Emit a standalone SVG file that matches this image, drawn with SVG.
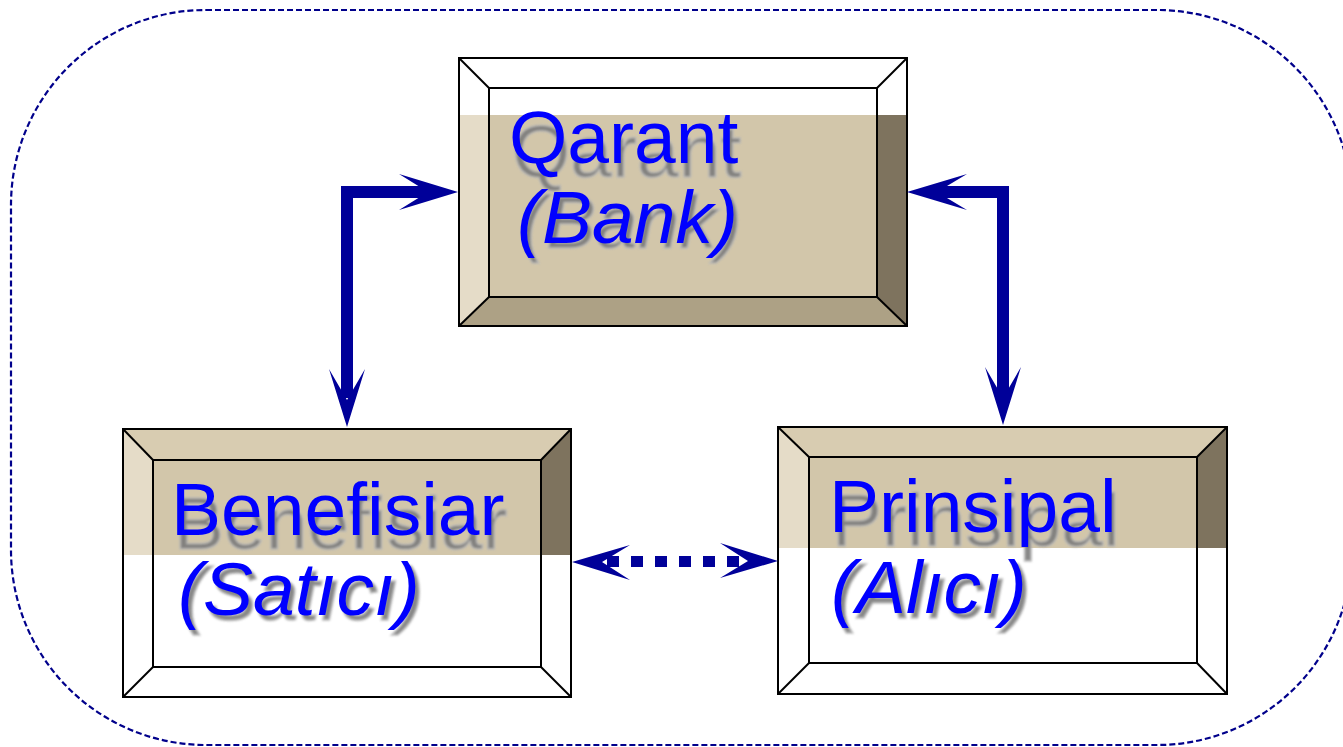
<svg xmlns="http://www.w3.org/2000/svg" width="1343" height="747" viewBox="0 0 1343 747">
<defs>
<style>
.frame{fill:none;stroke:#000;stroke-width:2}
.inner{fill:none;stroke:#000;stroke-width:2}
.diag{stroke:#000;stroke-width:2}
.lbl{font-family:"Liberation Sans",Arial,sans-serif;font-size:75px;fill:#0000FF}
.it{font-style:italic}
.sh{font-family:"Liberation Sans",Arial,sans-serif;font-size:75px;fill:#7a7a7a;stroke:#b8b8b8;stroke-width:1.5;opacity:0.9}
.arr{fill:#000099}
.shaft{fill:none;stroke:#000099;stroke-width:12;stroke-linejoin:miter}
.face{fill:#D2C6AA}
.lb{fill:#E5DCC8}
.tb{fill:#D8CCB1}
.rb{fill:#7E735E}
.bb{fill:#ADA185}
</style>
<clipPath id="c1"><rect x="459" y="115" width="448" height="212"/></clipPath>
<clipPath id="c2"><rect x="123" y="429" width="448" height="126"/></clipPath>
<clipPath id="c3"><rect x="778" y="427" width="449" height="121"/></clipPath>
<filter id="blur" x="-5%" y="-20%" width="110%" height="140%"><feGaussianBlur stdDeviation="0.8"/></filter>
</defs>
<rect width="1343" height="747" fill="#fff"/>
<rect x="11" y="10" width="1341" height="735" rx="195" ry="195" fill="none" stroke="#00008B" stroke-width="2.2" stroke-dasharray="6 3"/>

<g id="node-qarant">
<rect x="459" y="58" width="448" height="268" fill="#fff"/>
<g clip-path="url(#c1)">
<polygon class="lb" points="459,58 489,88 489,297 459,326"/>
<polygon class="tb" points="459,58 907,58 877,88 489,88"/>
<polygon class="rb" points="907,58 907,326 877,297 877,88"/>
<polygon class="bb" points="459,326 489,297 877,297 907,326"/>
<rect class="face" x="489" y="88" width="388" height="209"/>
</g>
<rect class="frame" x="459" y="58" width="448" height="268"/>
<rect class="inner" x="489" y="88" width="388" height="209"/>
<line class="diag" x1="459" y1="58" x2="489" y2="88"/>
<line class="diag" x1="907" y1="58" x2="877" y2="88"/>
<line class="diag" x1="459" y1="326" x2="489" y2="297"/>
<line class="diag" x1="907" y1="326" x2="877" y2="297"/>
<text class="sh" x="512" y="177" filter="url(#blur)">Qarant</text>
<text class="sh it" x="521" y="248" filter="url(#blur)">(Bank)</text>
<text class="lbl" x="509" y="163">Qarant</text>
<text class="lbl it" x="517" y="243">(Bank)</text>
</g>

<g id="node-benefisiar">
<rect x="123" y="429" width="448" height="268" fill="#fff"/>
<g clip-path="url(#c2)">
<polygon class="lb" points="123,429 153,460 153,667 123,697"/>
<polygon class="tb" points="123,429 571,429 541,460 153,460"/>
<polygon class="rb" points="571,429 571,697 541,667 541,460"/>
<rect class="face" x="153" y="460" width="388" height="207"/>
</g>
<rect class="frame" x="123" y="429" width="448" height="268"/>
<rect class="inner" x="153" y="460" width="388" height="207"/>
<line class="diag" x1="123" y1="429" x2="153" y2="460"/>
<line class="diag" x1="571" y1="429" x2="541" y2="460"/>
<line class="diag" x1="123" y1="697" x2="153" y2="667"/>
<line class="diag" x1="571" y1="697" x2="541" y2="667"/>
<text class="sh" x="174" y="549" filter="url(#blur)">Benefisiar</text>
<text class="sh it" x="182" y="620" filter="url(#blur)">(Satıcı)</text>
<text class="lbl" x="171" y="535">Benefisiar</text>
<text class="lbl it" x="178" y="615">(Satıcı)</text>
</g>

<g id="node-prinsipal">
<rect x="778" y="427" width="449" height="267" fill="#fff"/>
<g clip-path="url(#c3)">
<polygon class="lb" points="778,427 809,457 809,663 778,694"/>
<polygon class="tb" points="778,427 1227,427 1197,457 809,457"/>
<polygon class="rb" points="1227,427 1227,694 1197,663 1197,457"/>
<rect class="face" x="809" y="457" width="388" height="206"/>
</g>
<rect class="frame" x="778" y="427" width="449" height="267"/>
<rect class="inner" x="809" y="457" width="388" height="206"/>
<line class="diag" x1="778" y1="427" x2="809" y2="457"/>
<line class="diag" x1="1227" y1="427" x2="1197" y2="457"/>
<line class="diag" x1="778" y1="694" x2="809" y2="663"/>
<line class="diag" x1="1227" y1="694" x2="1197" y2="663"/>
<text class="sh" x="832" y="546" filter="url(#blur)">Prinsipal</text>
<text class="sh it" x="835" y="618" filter="url(#blur)">(Alıcı)</text>
<text class="lbl" x="829" y="532">Prinsipal</text>
<text class="lbl it" x="831" y="613">(Alıcı)</text>
</g>

<g id="connectors">
<polyline class="shaft" points="347,398 347,192 428,192"/>
<polygon class="arr" points="458,192 399,174 428,192 399,210"/>
<polygon class="arr" points="347,427 329,369 347,400 365,369"/>
<polyline class="shaft" points="937,192 1003,192 1003,398"/>
<polygon class="arr" points="907,192 967,174 937,192 967,210"/>
<polygon class="arr" points="1003,425 985,367 1003,398 1021,367"/>
<line x1="607" y1="561.5" x2="739" y2="561.5" stroke="#000099" stroke-width="11" stroke-dasharray="12 12"/>
<polygon class="arr" points="572,562 630,545 602,562 630,580"/>
<polygon class="arr" points="778,561 720,543 748,561 720,578"/>
</g>
</svg>
